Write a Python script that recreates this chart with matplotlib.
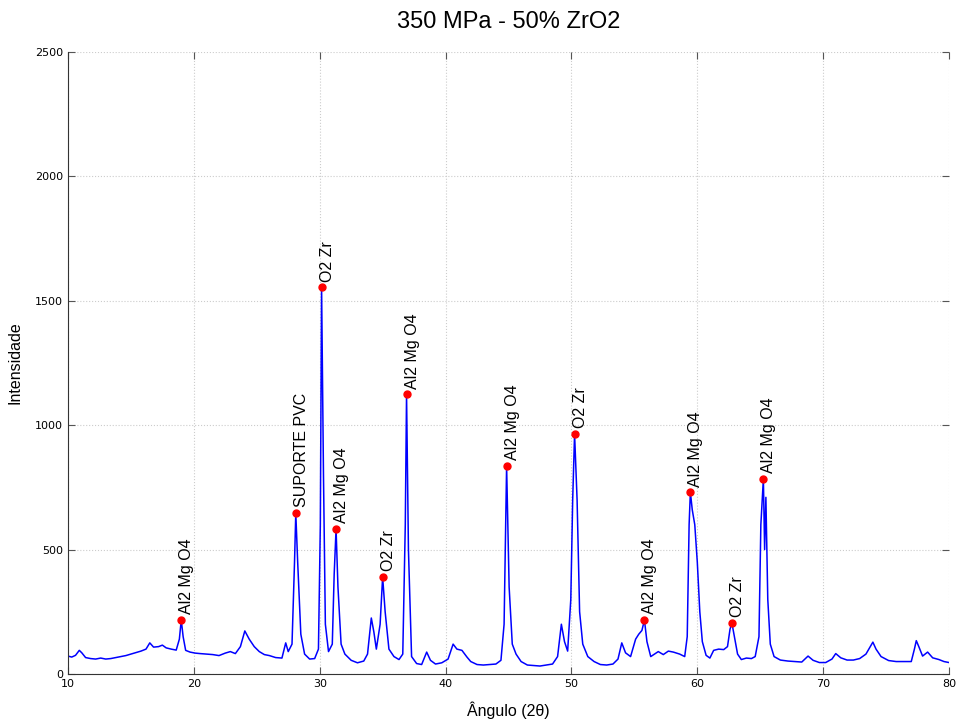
import matplotlib
matplotlib.use("Agg")
import matplotlib.pyplot as plt

# pattern (angle 2theta, counts)
angles = [10.0, 10.3, 10.6, 10.9, 11.1, 11.4, 11.8, 12.2, 12.6, 13.0, 13.4, 13.8, 14.2, 14.6, 15.0,
          15.4, 15.8, 16.2, 16.5, 16.8, 17.2, 17.5, 17.8, 18.2, 18.6, 18.85, 19.0, 19.15, 19.35, 19.7,
          20.1, 20.5, 21.0, 21.5, 22.0, 22.5, 22.9, 23.3, 23.7, 24.05, 24.4, 24.8, 25.2, 25.6, 26.0,
          26.5, 27.0, 27.3, 27.5, 27.8, 28.0, 28.1, 28.25, 28.5, 28.8, 29.2, 29.6, 29.9, 30.05, 30.15,
          30.3, 30.45, 30.7, 31.0, 31.15, 31.3, 31.45, 31.7, 32.0, 32.5, 33.0, 33.5, 33.8, 34.1, 34.3,
          34.5, 34.8, 35.0, 35.2, 35.5, 35.9, 36.3, 36.6, 36.8, 36.9, 37.05, 37.3, 37.7, 38.1, 38.5,
          38.8, 39.2, 39.7, 40.2, 40.6, 40.9, 41.3, 41.7, 42.0, 42.5, 43.0, 43.5, 44.0, 44.4, 44.65,
          44.85, 45.05, 45.3, 45.6, 46.0, 46.5, 47.0, 47.5, 48.0, 48.5, 48.9, 49.2, 49.45, 49.7, 49.95,
          50.1, 50.25, 50.45, 50.65, 50.9, 51.3, 51.8, 52.3, 52.8, 53.3, 53.7, 54.0, 54.3, 54.7, 55.1,
          55.35, 55.6, 55.8, 56.0, 56.3, 56.6, 56.9, 57.3, 57.7, 58.1, 58.6, 59.0, 59.2, 59.35, 59.45,
          59.6, 59.8, 60.0, 60.2, 60.4, 60.7, 61.0, 61.3, 61.7, 62.1, 62.4, 62.6, 62.75, 62.95, 63.2,
          63.5, 63.9, 64.3, 64.6, 64.9, 65.05, 65.25, 65.35, 65.45, 65.6, 65.8, 66.1, 66.6, 67.2, 67.8,
          68.3, 68.8, 69.2, 69.7, 70.2, 70.7, 71.0, 71.4, 71.9, 72.4, 72.9, 73.4, 73.8, 73.95, 74.2,
          74.6, 75.2, 75.8, 76.4, 77.0, 77.25, 77.4, 77.6, 77.9, 78.3, 78.7, 79.2, 79.6, 80.0]
counts = [72, 68, 75, 95, 85, 66, 62, 60, 64, 60, 62, 66, 70, 74, 80,
          86, 92, 100, 125, 108, 110, 116, 105, 100, 96, 140, 217, 150, 95, 88,
          84, 82, 80, 78, 74, 84, 90, 82, 110, 173, 140, 110, 90, 78, 74,
          66, 64, 125, 90, 120, 450, 647, 450, 160, 80, 60, 62, 100, 600, 1555,
          800, 200, 90, 120, 400, 583, 350, 120, 80, 55, 45, 52, 80, 225, 170,
          100, 200, 390, 250, 100, 70, 58, 80, 600, 1125, 500, 70, 42, 38, 88,
          55, 40, 45, 60, 120, 100, 95, 68, 50, 38, 36, 38, 40, 55, 200,
          836, 350, 120, 80, 50, 36, 34, 32, 36, 40, 70, 200, 130, 92, 300,
          700, 965, 700, 250, 120, 70, 50, 38, 36, 40, 60, 125, 85, 70, 140,
          160, 175, 217, 130, 70, 80, 90, 78, 92, 88, 80, 70, 150, 600, 731,
          660, 600, 450, 250, 130, 75, 64, 95, 100, 98, 110, 180, 205, 150, 80,
          58, 64, 62, 70, 150, 600, 784, 500, 710, 300, 120, 70, 56, 52, 50,
          48, 72, 55, 46, 46, 60, 82, 65, 56, 56, 62, 80, 115, 128, 100,
          70, 54, 50, 50, 50, 100, 134, 110, 72, 88, 65, 58, 50, 46]

# identified peaks
peak_angles = [19.0, 28.1, 30.15, 31.3, 35.0, 36.9, 44.85, 50.25, 55.8, 59.45, 62.75, 65.25]
peak_counts = [217, 647, 1555, 583, 390, 1125, 836, 965, 217, 731, 205, 784]
peak_names = ["Al2 Mg O4", "SUPORTE PVC", "O2 Zr", "Al2 Mg O4", "O2 Zr", "Al2 Mg O4",
              "Al2 Mg O4", "O2 Zr", "Al2 Mg O4", "Al2 Mg O4", "O2 Zr", "Al2 Mg O4"]

fig = plt.figure(figsize=(9.56, 7.22), dpi=100)
ax = fig.add_axes([0.0711, 0.0665, 0.9216, 0.8615])

ax.plot(angles, counts, color="#0000ff", lw=1.1)
ax.plot(peak_angles, peak_counts, "o", color="#ff0000", ms=5, zorder=3)

for a, c, name in zip(peak_angles, peak_counts, peak_names):
    ax.annotate(name, (a, c), xytext=(4, 4), textcoords="offset points",
                rotation=90, ha="center", va="bottom",
                family="Liberation Sans", fontsize=11.5)

ax.set_xlim(10, 80)
ax.set_ylim(0, 2500)
ax.set_xticks(range(10, 81, 10))
ax.set_yticks(range(0, 2501, 500))
ax.grid(True, ls=":", color="#cccccc", lw=0.8)

for s in ["top", "right"]:
    ax.spines[s].set_visible(False)
for s in ["left", "bottom"]:
    ax.spines[s].set_color("#333333")
ax.tick_params(direction="in", top=True, right=True, length=5, labelsize=8,
               color="#555555")

ax.set_title("350 MPa - 50% ZrO2", family="Liberation Sans", fontsize=17, pad=17)
ax.set_xlabel("Ângulo (2θ)", family="Liberation Sans", fontsize=11.5, labelpad=9)
ax.set_ylabel("Intensidade", family="Liberation Sans", fontsize=11.5, labelpad=9)

fig.savefig("out.png", dpi=100)
